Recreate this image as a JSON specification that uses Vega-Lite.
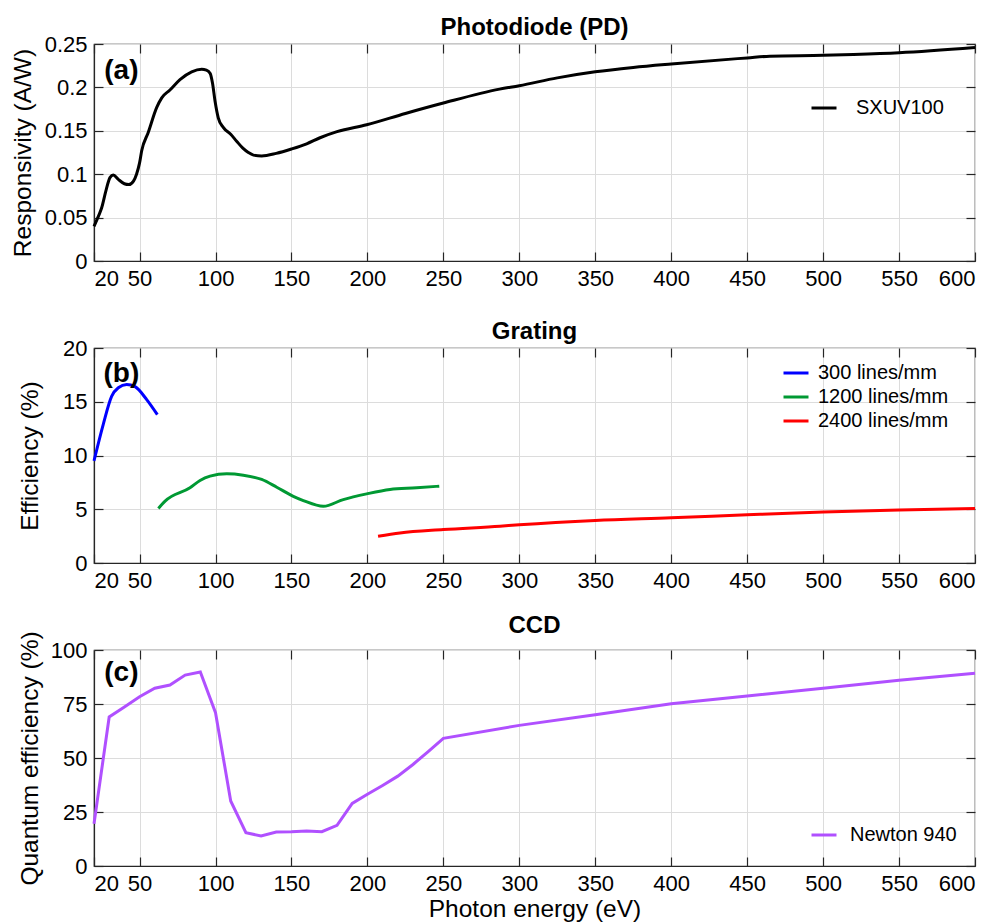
{
  "$schema": "https://vega.github.io/schema/vega-lite/v6.json",
  "background": "white",
  "padding": {"left": 9, "top": 15, "right": 2, "bottom": 2},
  "bounds": "flush",
  "spacing": 87,
  "datasets": {
    "pd": [
      {"energy": 20, "value": 0.040, "series": "SXUV100"},
      {"energy": 23, "value": 0.052, "series": "SXUV100"},
      {"energy": 25, "value": 0.061, "series": "SXUV100"},
      {"energy": 28, "value": 0.082, "series": "SXUV100"},
      {"energy": 30.5, "value": 0.096, "series": "SXUV100"},
      {"energy": 32.7, "value": 0.099, "series": "SXUV100"},
      {"energy": 36, "value": 0.094, "series": "SXUV100"},
      {"energy": 40, "value": 0.089, "series": "SXUV100"},
      {"energy": 43, "value": 0.088, "series": "SXUV100"},
      {"energy": 46, "value": 0.092, "series": "SXUV100"},
      {"energy": 48, "value": 0.100, "series": "SXUV100"},
      {"energy": 50, "value": 0.113, "series": "SXUV100"},
      {"energy": 51.4, "value": 0.127, "series": "SXUV100"},
      {"energy": 55.7, "value": 0.148, "series": "SXUV100"},
      {"energy": 61.3, "value": 0.177, "series": "SXUV100"},
      {"energy": 64.6, "value": 0.188, "series": "SXUV100"},
      {"energy": 70, "value": 0.197, "series": "SXUV100"},
      {"energy": 76.6, "value": 0.209, "series": "SXUV100"},
      {"energy": 84.3, "value": 0.218, "series": "SXUV100"},
      {"energy": 90.9, "value": 0.221, "series": "SXUV100"},
      {"energy": 94, "value": 0.220, "series": "SXUV100"},
      {"energy": 96.5, "value": 0.216, "series": "SXUV100"},
      {"energy": 98, "value": 0.205, "series": "SXUV100"},
      {"energy": 99.7, "value": 0.184, "series": "SXUV100"},
      {"energy": 101.8, "value": 0.165, "series": "SXUV100"},
      {"energy": 105.1, "value": 0.154, "series": "SXUV100"},
      {"energy": 110, "value": 0.146, "series": "SXUV100"},
      {"energy": 113.9, "value": 0.138, "series": "SXUV100"},
      {"energy": 118, "value": 0.130, "series": "SXUV100"},
      {"energy": 121.6, "value": 0.125, "series": "SXUV100"},
      {"energy": 125, "value": 0.122, "series": "SXUV100"},
      {"energy": 130.4, "value": 0.121, "series": "SXUV100"},
      {"energy": 140, "value": 0.124, "series": "SXUV100"},
      {"energy": 150, "value": 0.129, "series": "SXUV100"},
      {"energy": 160, "value": 0.135, "series": "SXUV100"},
      {"energy": 168.8, "value": 0.142, "series": "SXUV100"},
      {"energy": 180, "value": 0.149, "series": "SXUV100"},
      {"energy": 199.5, "value": 0.157, "series": "SXUV100"},
      {"energy": 225, "value": 0.170, "series": "SXUV100"},
      {"energy": 250, "value": 0.182, "series": "SXUV100"},
      {"energy": 287, "value": 0.198, "series": "SXUV100"},
      {"energy": 300, "value": 0.202, "series": "SXUV100"},
      {"energy": 325, "value": 0.211, "series": "SXUV100"},
      {"energy": 350, "value": 0.218, "series": "SXUV100"},
      {"energy": 375, "value": 0.223, "series": "SXUV100"},
      {"energy": 400, "value": 0.227, "series": "SXUV100"},
      {"energy": 450, "value": 0.234, "series": "SXUV100"},
      {"energy": 465, "value": 0.236, "series": "SXUV100"},
      {"energy": 500, "value": 0.237, "series": "SXUV100"},
      {"energy": 520, "value": 0.238, "series": "SXUV100"},
      {"energy": 550, "value": 0.240, "series": "SXUV100"},
      {"energy": 600, "value": 0.246, "series": "SXUV100"}
    ],
    "grating": [
      {"energy": 20, "value": 9.5, "series": "300 lines/mm"},
      {"energy": 26.1, "value": 12.9, "series": "300 lines/mm"},
      {"energy": 31.6, "value": 15.5, "series": "300 lines/mm"},
      {"energy": 36, "value": 16.3, "series": "300 lines/mm"},
      {"energy": 41.5, "value": 16.6, "series": "300 lines/mm"},
      {"energy": 47, "value": 16.4, "series": "300 lines/mm"},
      {"energy": 54.7, "value": 15.2, "series": "300 lines/mm"},
      {"energy": 61.7, "value": 13.8, "series": "300 lines/mm"},
      {"energy": 62.4, "value": 5.07, "series": "1200 lines/mm"},
      {"energy": 66.8, "value": 5.75, "series": "1200 lines/mm"},
      {"energy": 83.2, "value": 7.0, "series": "1200 lines/mm"},
      {"energy": 89.8, "value": 7.68, "series": "1200 lines/mm"},
      {"energy": 96.4, "value": 8.08, "series": "1200 lines/mm"},
      {"energy": 107.4, "value": 8.3, "series": "1200 lines/mm"},
      {"energy": 118.3, "value": 8.17, "series": "1200 lines/mm"},
      {"energy": 130.4, "value": 7.77, "series": "1200 lines/mm"},
      {"energy": 140.3, "value": 7.05, "series": "1200 lines/mm"},
      {"energy": 151.2, "value": 6.2, "series": "1200 lines/mm"},
      {"energy": 157.8, "value": 5.81, "series": "1200 lines/mm"},
      {"energy": 171, "value": 5.28, "series": "1200 lines/mm"},
      {"energy": 184.1, "value": 5.9, "series": "1200 lines/mm"},
      {"energy": 199.5, "value": 6.43, "series": "1200 lines/mm"},
      {"energy": 214.9, "value": 6.84, "series": "1200 lines/mm"},
      {"energy": 232.4, "value": 6.99, "series": "1200 lines/mm"},
      {"energy": 247.3, "value": 7.15, "series": "1200 lines/mm"},
      {"energy": 207, "value": 2.49, "series": "2400 lines/mm"},
      {"energy": 221.4, "value": 2.8, "series": "2400 lines/mm"},
      {"energy": 250, "value": 3.11, "series": "2400 lines/mm"},
      {"energy": 287.3, "value": 3.42, "series": "2400 lines/mm"},
      {"energy": 300, "value": 3.55, "series": "2400 lines/mm"},
      {"energy": 350, "value": 3.95, "series": "2400 lines/mm"},
      {"energy": 400, "value": 4.2, "series": "2400 lines/mm"},
      {"energy": 450, "value": 4.48, "series": "2400 lines/mm"},
      {"energy": 500, "value": 4.74, "series": "2400 lines/mm"},
      {"energy": 550, "value": 4.94, "series": "2400 lines/mm"},
      {"energy": 600, "value": 5.07, "series": "2400 lines/mm"}
    ],
    "ccd": [
      {"energy": 20, "value": 19.6, "series": "Newton 940"},
      {"energy": 30, "value": 69, "series": "Newton 940"},
      {"energy": 40, "value": 73.6, "series": "Newton 940"},
      {"energy": 50, "value": 78.4, "series": "Newton 940"},
      {"energy": 60, "value": 82.3, "series": "Newton 940"},
      {"energy": 70, "value": 83.8, "series": "Newton 940"},
      {"energy": 80, "value": 88.4, "series": "Newton 940"},
      {"energy": 90, "value": 89.8, "series": "Newton 940"},
      {"energy": 100, "value": 71, "series": "Newton 940"},
      {"energy": 110, "value": 30.1, "series": "Newton 940"},
      {"energy": 120, "value": 15.4, "series": "Newton 940"},
      {"energy": 130, "value": 13.9, "series": "Newton 940"},
      {"energy": 140, "value": 15.7, "series": "Newton 940"},
      {"energy": 150, "value": 15.8, "series": "Newton 940"},
      {"energy": 160, "value": 16.2, "series": "Newton 940"},
      {"energy": 170, "value": 15.9, "series": "Newton 940"},
      {"energy": 180, "value": 18.8, "series": "Newton 940"},
      {"energy": 190, "value": 29, "series": "Newton 940"},
      {"energy": 200, "value": 33.2, "series": "Newton 940"},
      {"energy": 210, "value": 37.3, "series": "Newton 940"},
      {"energy": 220, "value": 41.6, "series": "Newton 940"},
      {"energy": 230, "value": 47, "series": "Newton 940"},
      {"energy": 240, "value": 53, "series": "Newton 940"},
      {"energy": 250, "value": 59.1, "series": "Newton 940"},
      {"energy": 300, "value": 65.1, "series": "Newton 940"},
      {"energy": 350, "value": 70, "series": "Newton 940"},
      {"energy": 400, "value": 75.1, "series": "Newton 940"},
      {"energy": 450, "value": 78.7, "series": "Newton 940"},
      {"energy": 500, "value": 82.3, "series": "Newton 940"},
      {"energy": 550, "value": 86, "series": "Newton 940"},
      {"energy": 600, "value": 89.2, "series": "Newton 940"}
    ]
  },
  "vconcat": [
    {
      "width": 881, "height": 217,
      "title": {"text": "Photodiode (PD)"},
      "layer": [
        {
          "data": {"name": "pd"},
          "mark": {"type": "line", "strokeWidth": 3, "interpolate": "monotone"},
          "encoding": {
            "x": {"field": "energy", "type": "quantitative", "scale": {"domain": [20, 600], "nice": false, "zero": false},
                  "axis": {"values": [20, 50, 100, 150, 200, 250, 300, 350, 400, 450, 500, 550, 600], "title": null, "labelPadding": 16}},
            "y": {"field": "value", "type": "quantitative", "scale": {"domain": [0, 0.25], "nice": false},
                  "axis": {"values": [0, 0.05, 0.1, 0.15, 0.2, 0.25], "format": "~g", "title": "Responsivity (A/W)", "labelPadding": 16, "titlePadding": 9}},
            "color": {"field": "series", "type": "nominal", "scale": {"domain": ["SXUV100"], "range": ["#000000"]},
                      "legend": {"orient": "none", "legendX": 716, "legendY": 50, "title": null, "labelOffset": 18}}
          }
        },
        {
          "data": {"name": "pd"},
          "mark": {"type": "line", "opacity": 0},
          "encoding": {
            "x": {"field": "energy", "type": "quantitative", "axis": {"orient": "top", "values": [20, 50, 100, 150, 200, 250, 300, 350, 400, 450, 500, 550, 600], "labels": false, "grid": false, "domain": false, "title": null, "minExtent": 0, "maxExtent": 0}},
            "y": {"field": "value", "type": "quantitative", "axis": {"orient": "right", "values": [0, 0.05, 0.1, 0.15, 0.2, 0.25], "labels": false, "grid": false, "domain": false, "title": null, "minExtent": 0, "maxExtent": 0}}
          }
        },
        {
          "data": {"values": [{"label": "(a)"}]},
          "mark": {"type": "text", "fontSize": 28, "fontWeight": "bold", "align": "center", "baseline": "middle"},
          "encoding": {
            "x": {"datum": 38, "type": "quantitative", "axis": null},
            "y": {"datum": 0.219, "type": "quantitative", "axis": null},
            "text": {"field": "label"}
          }
        }
      ],
      "resolve": {"axis": {"x": "independent", "y": "independent"}}
    },
    {
      "width": 881, "height": 215,
      "title": {"text": "Grating"},
      "layer": [
        {
          "data": {"name": "grating"},
          "mark": {"type": "line", "strokeWidth": 3, "interpolate": "monotone"},
          "encoding": {
            "x": {"field": "energy", "type": "quantitative", "scale": {"domain": [20, 600], "nice": false, "zero": false},
                  "axis": {"values": [20, 50, 100, 150, 200, 250, 300, 350, 400, 450, 500, 550, 600], "title": null, "labelPadding": 16}},
            "y": {"field": "value", "type": "quantitative", "scale": {"domain": [0, 20], "nice": false},
                  "axis": {"values": [0, 5, 10, 15, 20], "title": "Efficiency (%)", "labelPadding": 16, "titlePadding": 20}},
            "color": {"field": "series", "type": "nominal", "scale": {"domain": ["300 lines/mm", "1200 lines/mm", "2400 lines/mm"], "range": ["#0000ff", "#009933", "#ff0000"]},
                      "legend": {"orient": "none", "legendX": 688, "legendY": 11, "title": null, "labelOffset": 8, "rowPadding": -1}}
          }
        },
        {
          "data": {"name": "grating"},
          "mark": {"type": "line", "opacity": 0},
          "encoding": {
            "x": {"field": "energy", "type": "quantitative", "axis": {"orient": "top", "values": [20, 50, 100, 150, 200, 250, 300, 350, 400, 450, 500, 550, 600], "labels": false, "grid": false, "domain": false, "title": null, "minExtent": 0, "maxExtent": 0}},
            "y": {"field": "value", "type": "quantitative", "axis": {"orient": "right", "values": [0, 5, 10, 15, 20], "labels": false, "grid": false, "domain": false, "title": null, "minExtent": 0, "maxExtent": 0}}
          }
        },
        {
          "data": {"values": [{"label": "(b)"}]},
          "mark": {"type": "text", "fontSize": 28, "fontWeight": "bold", "align": "center", "baseline": "middle"},
          "encoding": {
            "x": {"datum": 38, "type": "quantitative", "axis": null},
            "y": {"datum": 17.6, "type": "quantitative", "axis": null},
            "text": {"field": "label"}
          }
        }
      ],
      "resolve": {"axis": {"x": "independent", "y": "independent"}}
    },
    {
      "width": 881, "height": 216,
      "title": {"text": "CCD"},
      "layer": [
        {
          "data": {"name": "ccd"},
          "mark": {"type": "line", "strokeWidth": 3},
          "encoding": {
            "x": {"field": "energy", "type": "quantitative", "scale": {"domain": [20, 600], "nice": false, "zero": false},
                  "axis": {"values": [20, 50, 100, 150, 200, 250, 300, 350, 400, 450, 500, 550, 600], "title": "Photon energy (eV)", "labelPadding": 16, "titlePadding": 3}},
            "y": {"field": "value", "type": "quantitative", "scale": {"domain": [0, 100], "nice": false},
                  "axis": {"values": [0, 25, 50, 75, 100], "title": "Quantum efficiency (%)", "labelPadding": 16, "titlePadding": 8}},
            "color": {"field": "series", "type": "nominal", "scale": {"domain": ["Newton 940"], "range": ["#b050ff"]},
                      "legend": {"orient": "none", "legendX": 716, "legendY": 171, "title": null, "labelOffset": 12}}
          }
        },
        {
          "data": {"name": "ccd"},
          "mark": {"type": "line", "opacity": 0},
          "encoding": {
            "x": {"field": "energy", "type": "quantitative", "axis": {"orient": "top", "values": [20, 50, 100, 150, 200, 250, 300, 350, 400, 450, 500, 550, 600], "labels": false, "grid": false, "domain": false, "title": null, "minExtent": 0, "maxExtent": 0}},
            "y": {"field": "value", "type": "quantitative", "axis": {"orient": "right", "values": [0, 25, 50, 75, 100], "labels": false, "grid": false, "domain": false, "title": null, "minExtent": 0, "maxExtent": 0}}
          }
        },
        {
          "data": {"values": [{"label": "(c)"}]},
          "mark": {"type": "text", "fontSize": 28, "fontWeight": "bold", "align": "center", "baseline": "middle"},
          "encoding": {
            "x": {"datum": 38, "type": "quantitative", "axis": null},
            "y": {"datum": 89.4, "type": "quantitative", "axis": null},
            "text": {"field": "label"}
          }
        }
      ],
      "resolve": {"axis": {"x": "independent", "y": "independent"}}
    }
  ],
  "resolve": {"scale": {"color": "independent"}, "legend": {"color": "independent"}},
  "config": {
    "font": "Liberation Sans",
    "view": {"stroke": "#262626", "strokeWidth": 1.2},
    "axis": {
      "labelFont": "Liberation Sans", "labelFontSize": 22, "labelColor": "#000000",
      "titleFont": "Liberation Sans", "titleFontSize": 24.5, "titleFontWeight": "normal", "titleColor": "#000000",
      "gridColor": "#dcdcdc", "gridWidth": 1,
      "domainColor": "#262626", "domainWidth": 1.2,
      "tickColor": "#262626", "tickSize": -9, "tickWidth": 1.2
    },
    "legend": {
      "labelFont": "Liberation Sans", "labelFontSize": 20, "labelColor": "#000000",
      "symbolType": "stroke", "symbolStrokeWidth": 3, "symbolSize": 625, "padding": 0
    },
    "title": {"font": "Liberation Sans", "fontSize": 24, "fontWeight": "bold", "color": "#000000", "offset": -7, "anchor": "middle", "frame": "group", "baseline": "alphabetic"},
    "text": {"font": "Liberation Sans"}
  }
}
